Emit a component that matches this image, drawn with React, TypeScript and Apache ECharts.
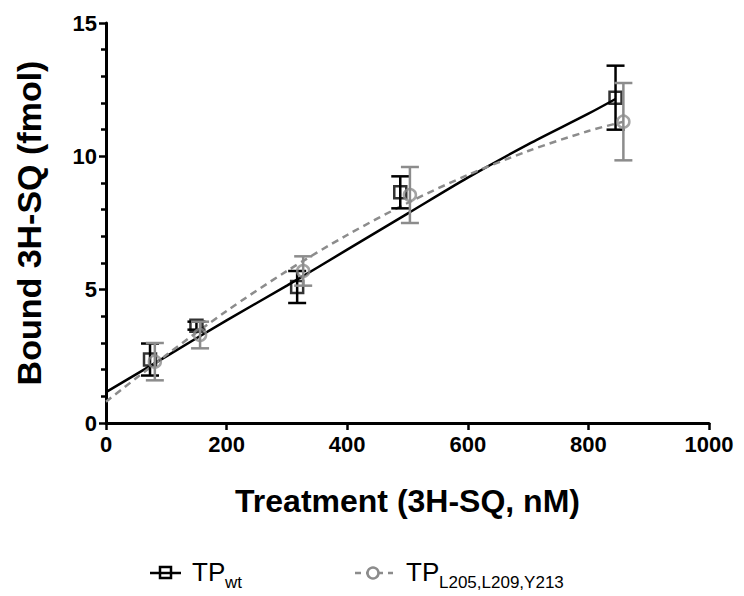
import React, { useEffect, useRef } from "react";
import * as echarts from "echarts";

// Measured data (TP wt)
const wtX = [73, 150, 317, 488, 845];
const wtY = [2.38, 3.65, 5.1, 8.65, 12.2];
const wtErr = [0.6, 0.15, 0.6, 0.6, 1.2];

// Measured data (TP L205,L209,Y213)
const mutX = [81, 156, 327, 504, 858];
const mutY = [2.3, 3.3, 5.7, 8.55, 11.3];
const mutErr = [0.7, 0.5, 0.55, 1.05, 1.45];

// Fitted curves
const fitWtX = [0, 100, 200, 300, 400, 500, 600, 700, 800, 845];
const fitWtY = [1.16, 2.5, 3.85, 5.15, 6.5, 7.85, 9.2, 10.45, 11.6, 12.15];
const fitMutX = [0, 100, 200, 300, 400, 500, 600, 700, 800, 858];
const fitMutY = [0.8, 2.55, 4.2, 5.7, 7.05, 8.25, 9.3, 10.2, 10.95, 11.3];

const xTicks = { min: 0, max: 1000, interval: 200 };
const yTicks = { min: 0, max: 15, interval: 5 };

const FONT = "'Liberation Sans', Arial, sans-serif";
const BLACK = "#000000";
const GRAY = "#8c8c8c";

function errRender(color: string) {
  return (params: any, api: any) => {
    const x = api.value(0);
    const lo = api.value(1);
    const hi = api.value(2);
    const p1 = api.coord([x, hi]);
    const p2 = api.coord([x, lo]);
    const w = 9;
    const style = { stroke: color, lineWidth: 2.5 };
    return {
      type: "group",
      children: [
        { type: "line", shape: { x1: p1[0], y1: p1[1], x2: p2[0], y2: p2[1] }, style },
        { type: "line", shape: { x1: p1[0] - w, y1: p1[1], x2: p1[0] + w, y2: p1[1] }, style },
        { type: "line", shape: { x1: p2[0] - w, y1: p2[1], x2: p2[0] + w, y2: p2[1] }, style },
      ],
    };
  };
}

export default function App() {
  const ref = useRef<HTMLDivElement>(null);
  useEffect(() => {
    document.body.style.margin = "0";
    const chart = echarts.init(ref.current!, undefined, { renderer: "svg" });
    const axisCommon = {
      axisLine: { show: true, onZero: false, lineStyle: { color: BLACK, width: 3 } },
      axisTick: { show: true, inside: false, length: 7, lineStyle: { color: BLACK, width: 2.5 } },
      splitLine: { show: false },
      axisLabel: { color: BLACK, fontWeight: "bold", fontSize: 22, fontFamily: FONT, formatter: (v: number) => String(v) },
      nameTextStyle: { color: BLACK, fontWeight: "bold", fontSize: 32, fontFamily: FONT },
    };
    chart.setOption({
      animation: false,
      backgroundColor: "#ffffff",
      grid: { left: 106, right: 35, top: 23, bottom: 173, containLabel: false },
      xAxis: {
        type: "value",
        ...xTicks,
        ...axisCommon,
        axisLabel: { ...axisCommon.axisLabel, margin: 10 },
        name: "Treatment (3H-SQ, nM)",
        nameLocation: "middle",
        nameGap: 62,
      },
      yAxis: {
        type: "value",
        ...yTicks,
        ...axisCommon,
        minorTick: { show: true, splitNumber: 5, length: 5, lineStyle: { color: BLACK, width: 2.5 } },
        axisLabel: { ...axisCommon.axisLabel, margin: 9 },
        name: "Bound 3H-SQ (fmol)",
        nameLocation: "middle",
        nameGap: 60,
        nameTextStyle: { ...axisCommon.nameTextStyle, fontSize: 34 },
      },
      series: [
        {
          name: "fitWt",
          type: "line",
          data: fitWtX.map((x, i) => [x, fitWtY[i]]),
          smooth: 0.3,
          symbol: "none",
          lineStyle: { color: BLACK, width: 2.5 },
          z: 2,
        },
        {
          name: "fitMut",
          type: "line",
          data: fitMutX.map((x, i) => [x, fitMutY[i]]),
          smooth: 0.3,
          symbol: "none",
          lineStyle: { color: GRAY, width: 2.5, type: [7, 5] },
          z: 3,
        },
        {
          name: "errWt",
          type: "custom",
          renderItem: errRender(BLACK),
          data: wtX.map((x, i) => [x, wtY[i] - wtErr[i], wtY[i] + wtErr[i]]),
          encode: { x: 0, y: [1, 2] },
          z: 4,
        },
        {
          name: "TPwt",
          type: "scatter",
          data: wtX.map((x, i) => [x, wtY[i]]),
          symbol: "rect",
          symbolSize: 12,
          itemStyle: { color: "rgba(0,0,0,0)", borderColor: BLACK, borderWidth: 2.5 },
          z: 5,
        },
        {
          name: "errMut",
          type: "custom",
          renderItem: errRender(GRAY),
          data: mutX.map((x, i) => [x, mutY[i] - mutErr[i], mutY[i] + mutErr[i]]),
          encode: { x: 0, y: [1, 2] },
          z: 6,
        },
        {
          name: "TPmut",
          type: "scatter",
          data: mutX.map((x, i) => [x, mutY[i]]),
          symbol: "circle",
          symbolSize: 12,
          itemStyle: { color: "rgba(0,0,0,0)", borderColor: GRAY, borderWidth: 2.5 },
          z: 7,
        },
      ],
      graphic: [
        { type: "line", shape: { x1: 150, y1: 573, x2: 181, y2: 573 }, style: { stroke: BLACK, lineWidth: 2.5 } },
        { type: "rect", shape: { x: 160, y: 567, width: 11, height: 11 }, style: { fill: "none", stroke: BLACK, lineWidth: 2.5 } },
        { type: "text", x: 192, y: 585, style: { text: "TP", fontSize: 26, fontFamily: FONT, fill: BLACK, verticalAlign: "bottom" } },
        { type: "text", x: 225, y: 591, style: { text: "wt", fontSize: 17, fontFamily: FONT, fill: BLACK, verticalAlign: "bottom" } },
        { type: "line", shape: { x1: 355, y1: 573, x2: 393, y2: 573 }, style: { stroke: GRAY, lineWidth: 2.5, lineDash: [6, 5] } },
        { type: "circle", shape: { cx: 373, cy: 573, r: 5.5 }, style: { fill: "#ffffff", stroke: GRAY, lineWidth: 2.5 } },
        { type: "text", x: 406, y: 585, style: { text: "TP", fontSize: 26, fontFamily: FONT, fill: BLACK, verticalAlign: "bottom" } },
        { type: "text", x: 439, y: 591, style: { text: "L205,L209,Y213", fontSize: 17, fontFamily: FONT, fill: BLACK, verticalAlign: "bottom" } },
      ],
    });
    return () => chart.dispose();
  }, []);
  return <div ref={ref} style={{ width: 744, height: 596 }} />;
}
